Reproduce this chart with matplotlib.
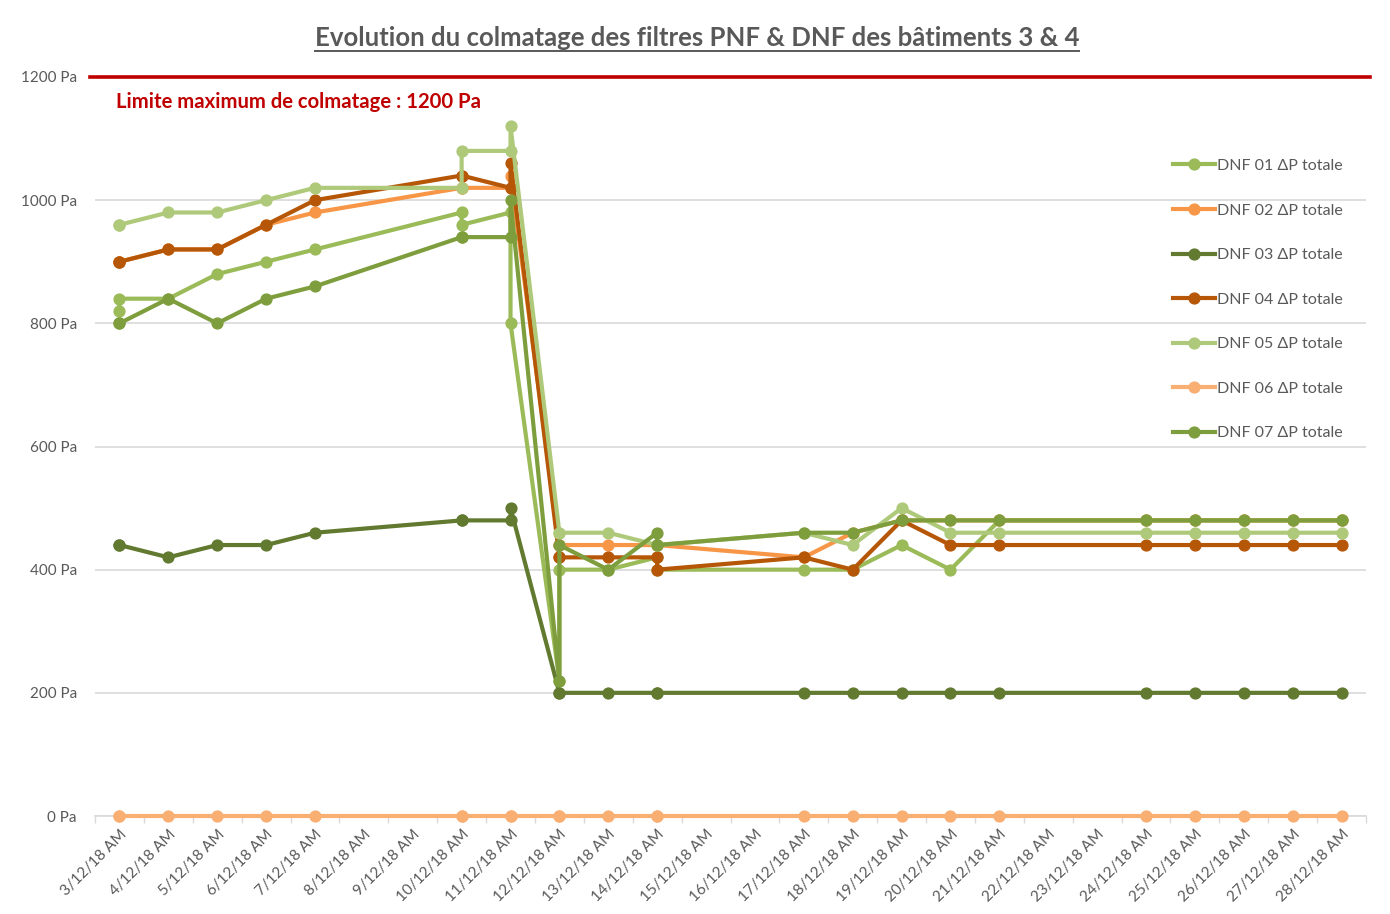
import numpy as np
import matplotlib
matplotlib.use('Agg')
import matplotlib.pyplot as plt
from matplotlib.lines import Line2D

plt.rcParams['font.family'] = ['Lato', 'DejaVu Sans']

# jours des relevés (certains jours ont deux relevés)
jours = [3, 3, 4, 5, 6, 7, 10, 10, 11, 11, 12, 12, 13, 14, 14,
         17, 18, 19, 20, 21, 24, 25, 26, 27, 28]

dnf01 = [820, 840, 840, 880, 900, 920, 980, 960, 980, 800, 220, 400, 400, 420, 400,
         400, 400, 440, 400, 480, 480, 480, 480, 480, 480]
dnf02 = [900, 900, 920, 920, 960, 980, 1020, 1020, 1020, 1040, 440, 440, 440, 440, 440,
         420, 460, 480, 480, 480, 480, 480, 480, 480, 480]
dnf03 = [440, 440, 420, 440, 440, 460, 480, 480, 480, 500, 200, 200, 200, 200, 200,
         200, 200, 200, 200, 200, 200, 200, 200, 200, 200]
dnf04 = [900, 900, 920, 920, 960, 1000, 1040, 1040, 1020, 1060, 420, 420, 420, 420, 400,
         420, 400, 480, 440, 440, 440, 440, 440, 440, 440]
dnf05 = [960, 960, 980, 980, 1000, 1020, 1020, 1080, 1080, 1120, 460, 460, 460, 440, 440,
         460, 440, 500, 460, 460, 460, 460, 460, 460, 460]
dnf06 = [0] * len(jours)
dnf07 = [800, 800, 840, 800, 840, 860, 940, 940, 940, 1000, 220, 440, 400, 460, 440,
         460, 460, 480, 480, 480, 480, 480, 480, 480, 480]

series = [dnf01, dnf02, dnf03, dnf04, dnf05, dnf06, dnf07]
noms = ['DNF 01 ΔP totale', 'DNF 02 ΔP totale', 'DNF 03 ΔP totale', 'DNF 04 ΔP totale',
        'DNF 05 ΔP totale', 'DNF 06 ΔP totale', 'DNF 07 ΔP totale']
couleurs = ['#9BBB59', '#F79646', '#617A30', '#B65708', '#AFC97A', '#F9AE72', '#7E9E3E']

labels_x = list(range(3, 29))
labels_txt = ['{}/12/18 AM'.format(d) for d in labels_x]
yticks = [0, 200, 400, 600, 800, 1000, 1200]
limite = 1200

gris = '#595959'

fig = plt.figure(figsize=(13.9, 9.14), dpi=100)
ax = fig.add_axes([95 / 1390, 1 - 816 / 914, (1366 - 95) / 1390, (816 - 77) / 914])

for ys, nom, c in zip(series, noms, couleurs):
    ax.plot(jours, ys, color=c, lw=3.0, marker='o', ms=7.8, label=nom,
            solid_joinstyle='round', zorder=3, clip_on=False)

# limite max
ax.axhline(limite, xmin=-0.004, xmax=1.003, color='#C00000', lw=2.6, clip_on=False, zorder=4)
ax.text(2.93, 1160, 'Limite maximum de colmatage : 1200 Pa', color='#C00000',
        fontsize=14.6, fontweight='bold', va='center', ha='left')

ax.set_xlim(2.5, 28.5)
ax.set_ylim(0, 1200)
ax.set_yticks(yticks)
ax.set_yticklabels(['{} Pa'.format(v) for v in yticks])
ax.set_xticks(labels_x)
ax.set_xticklabels(labels_txt, rotation=45, ha='right', va='top', rotation_mode='anchor')
ax.set_xticks(np.arange(2.5, 29, 1), minor=True)
ax.tick_params(axis='x', which='major', length=0, pad=8, labelsize=11, labelcolor=gris)
ax.tick_params(axis='x', which='minor', length=5, color='#D9D9D9', width=1)
ax.tick_params(axis='y', length=0, pad=13, labelsize=11, labelcolor=gris)
ax.grid(axis='y', color='#D9D9D9', lw=1.2, zorder=0)
ax.set_axisbelow(True)
for s in ['top', 'right', 'left']:
    ax.spines[s].set_visible(False)
ax.spines['bottom'].set_color('#D9D9D9')
ax.spines['bottom'].set_linewidth(1.2)

leg = ax.legend(loc='upper left', bbox_to_anchor=(0.842, 0.9), frameon=False,
                fontsize=11.5, handlelength=2.6, handletextpad=0.15, labelspacing=1.9,
                borderpad=0)
for t in leg.get_texts():
    t.set_color(gris)

titre = fig.text(0.5013, 1 - 38 / 914, 'Evolution du colmatage des filtres PNF & DNF des bâtiments 3 & 4',
                 ha='center', va='center', fontsize=18.5, fontweight='bold', color=gris)

# soulignement du titre
fig.canvas.draw()
bb = titre.get_window_extent()
yl = (bb.y0 - 1) / fig.bbox.height
fig.add_artist(Line2D([bb.x0 / fig.bbox.width, bb.x1 / fig.bbox.width], [yl, yl],
                      color=gris, lw=1.4, transform=fig.transFigure))

fig.savefig('out.png', dpi=100)
